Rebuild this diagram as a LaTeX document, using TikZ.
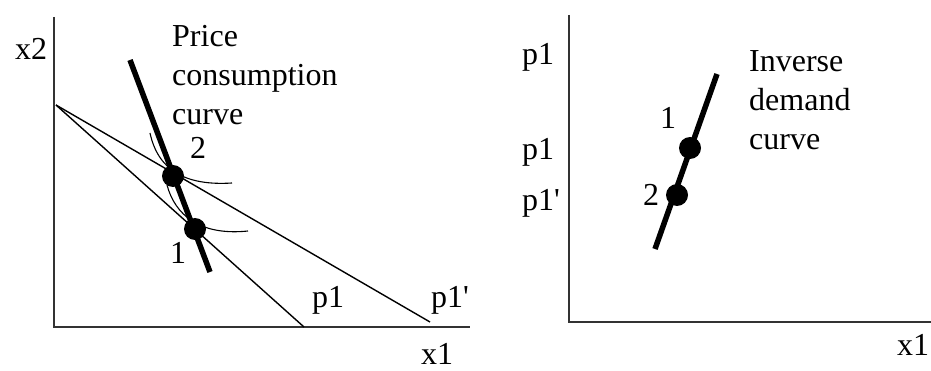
\documentclass[tikz,border=0pt]{standalone}
\usepackage{fontspec}
\setmainfont{Liberation Serif}
\begin{document}
\begin{tikzpicture}[x=1pt,y=-1pt,
  lbl/.style={font=\fontsize{32}{39}\selectfont, inner sep=0pt},
  axis/.style={line width=2pt, draw=black!80},
  budget/.style={line width=1.4pt},
  thick curve/.style={line width=5.5pt},
  dotnode/.style={circle, fill=black, inner sep=0pt, minimum size=22pt},
  indiff/.style={line width=1.1pt}]
\useasboundingbox (0,0) rectangle (931,371);
% left panel axes
\coordinate (LO) at (54,327);
\coordinate (LY) at (54,17);
\coordinate (LX) at (470,327);
\draw[axis] (LY) -- (LO) -- (LX);
% budget lines
\coordinate (B0) at (56,105);
\coordinate (B1) at (304,327);
\coordinate (B2) at (430,322);
\draw[budget] (B0) -- (B1);
\draw[budget] (B0) -- (B2);
% indifference curves
\draw[indiff] (150,133) .. controls (158,170) and (185,186) .. (232,183);
\draw[indiff] (167,185) .. controls (175,215) and (200,236) .. (248,231);
% price consumption curve
\coordinate (P0) at (130,60);
\coordinate (P1) at (210,272);
\draw[thick curve] (P0) -- (P1);
\node[dotnode] (d2) at (173,176) {};
\node[dotnode] (d1) at (195,229) {};
% labels
\node[lbl] (x2) at (31,49) {x2};
\node[lbl, anchor=west, align=left] (pcc) at (172,75) {Price\\consumption\\curve};
\node[lbl] (l2) at (198,148) {2};
\node[lbl] (l1) at (178,253) {1};
\node[lbl] (lp1) at (328,300) {p1};
\node[lbl] (lp1p) at (450,300) {p1\textquotesingle};
\node[lbl] (lx1) at (437,354) {x1};
% right panel axes
\coordinate (RO) at (569,322);
\coordinate (RY) at (569,15);
\coordinate (RX) at (931,322);
\draw[axis] (RY) -- (RO) -- (RX);
\coordinate (D0) at (655,249);
\coordinate (D1) at (717,74);
\draw[thick curve] (D0) -- (D1);
\node[dotnode] (r1) at (690,148) {};
\node[dotnode] (r2) at (677,195) {};
\node[lbl] (rp1a) at (538,57) {p1};
\node[lbl] (rp1b) at (538,152) {p1};
\node[lbl] (rp1c) at (541,203) {p1\textquotesingle};
\node[lbl] (r1l) at (668,118) {1};
\node[lbl] (r2l) at (651,195) {2};
\node[lbl, anchor=west, align=left] (idc) at (749,100) {Inverse\\demand\\curve};
\node[lbl] (rx1) at (913,345) {x1};
\end{tikzpicture}
\end{document}
